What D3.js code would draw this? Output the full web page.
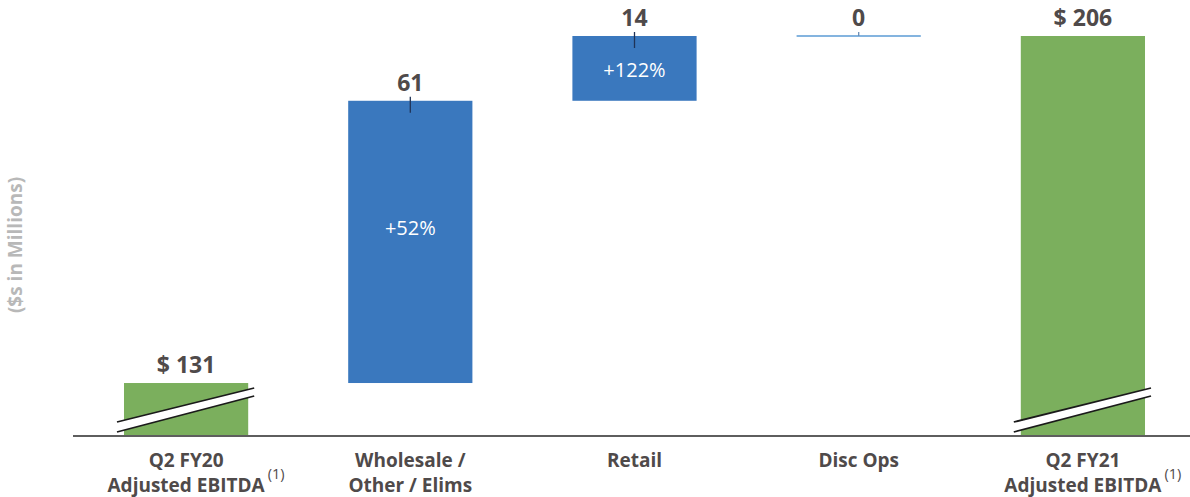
<!DOCTYPE html>
<html>
<head>
<meta charset="utf-8">
<script src="https://cdn.jsdelivr.net/npm/d3@7"></script>
<style>
  html, body { margin: 0; padding: 0; background: #fff; }
  svg { display: block; }
</style>
</head>
<body>
<svg id="chart" width="1190" height="497"></svg>
<script>
// ---- data ----
const categories = ["Q2 FY20", "Wholesale", "Retail", "Disc Ops", "Q2 FY21"];
const categoryLines = [
  ["Q2 FY20", "Adjusted EBITDA"],
  ["Wholesale /", "Other / Elims"],
  ["Retail"],
  ["Disc Ops"],
  ["Q2 FY21", "Adjusted EBITDA"]
];
const footnotes = ["(1)", "", "", "", "(1)"];
const values = [131, 61, 14, 0, 206];
const kinds = ["total", "delta", "delta", "delta", "total"];
const valueLabels = ["$ 131", "61", "14", "0", "$ 206"];
const pctLabels = ["", "+52%", "+122%", "", ""];
const axisTitle = "($s in Millions)";
const axisFloor = 119.55; // truncated (broken) axis start

// ---- build waterfall ----
let run = 0;
const rows = values.map((v, i) => {
  let start, end;
  if (kinds[i] === "total") { start = axisFloor; end = v; run = v; }
  else { start = run; end = run + v; run = end; }
  return { cat: categories[i], v, kind: kinds[i], start, end, i };
});

const svg = d3.select("#chart");
const x = d3.scaleBand().domain(categories).range([74, 1195])
  .paddingInner(0.446).paddingOuter(0.223);
const y = d3.scaleLinear().domain([axisFloor, 206]).range([436, 36]);

const green = "#7BAF5D", blue = "#3A78BE", textCol = "#4F4A4A";
const font = "'Open Sans', 'DejaVu Sans', sans-serif";

// bars
rows.forEach(d => {
  const x0 = x(d.cat), w = x.bandwidth();
  const top = y(Math.max(d.start, d.end)), bot = y(Math.min(d.start, d.end));
  if (d.v === 0) {
    svg.append("line").attr("x1", x0).attr("x2", x0 + w)
      .attr("y1", top).attr("y2", top)
      .attr("stroke", "#5B9BD5").attr("stroke-width", 1.5);
  } else {
    svg.append("rect").attr("x", x0).attr("y", top)
      .attr("width", w).attr("height", bot - top)
      .attr("fill", d.kind === "total" ? green : blue);
  }
});

// axis baseline
svg.append("line").attr("x1", 73).attr("x2", 1190)
  .attr("y1", y(axisFloor)).attr("y2", y(axisFloor))
  .attr("stroke", "#5E5E5E").attr("stroke-width", 1.8);

// axis break marks on total bars
rows.filter(d => d.kind === "total").forEach(d => {
  const x0 = x(d.cat) - 7, x1 = x(d.cat) + x.bandwidth() + 6;
  const b = y(axisFloor);
  const lt = b - 14, lb = b - 4, rt = b - 48, rb = b - 40;
  svg.append("polygon")
    .attr("points", `${x0},${lt} ${x1},${rt} ${x1},${rb} ${x0},${lb}`)
    .attr("fill", "#fff");
  [[lt, rt], [lb, rb]].forEach(([a, c]) => {
    svg.append("line").attr("x1", x0).attr("y1", a).attr("x2", x1).attr("y2", c)
      .attr("stroke", "#1A1A1A").attr("stroke-width", 1.8);
  });
});

// tick marks on delta bars
rows.filter(d => d.kind === "delta").forEach(d => {
  const cx = x(d.cat) + x.bandwidth() / 2;
  const top = y(Math.max(d.start, d.end));
  svg.append("line").attr("x1", cx).attr("x2", cx)
    .attr("y1", top - 4).attr("y2", top + (d.v > 0 ? 12 : 0))
    .attr("stroke", d.v > 0 ? "#1F3357" : "#6B8DB5").attr("stroke-width", 1.3);
});

// value labels
rows.forEach(d => {
  const cx = x(d.cat) + x.bandwidth() / 2;
  const top = y(Math.max(d.start, d.end));
  svg.append("text").attr("x", cx).attr("y", top - 10)
    .attr("text-anchor", "middle").attr("font-family", font)
    .attr("font-weight", 700).attr("font-size", 23).attr("fill", textCol)
    .text(valueLabels[d.i]);
});

// percent labels
rows.forEach(d => {
  if (!pctLabels[d.i]) return;
  const cx = x(d.cat) + x.bandwidth() / 2;
  const top = y(Math.max(d.start, d.end)), bot = y(Math.min(d.start, d.end));
  const cy = top + (bot - top) * (bot - top > 100 ? 0.45 : 0.52);
  svg.append("text").attr("x", cx).attr("y", cy + 7)
    .attr("text-anchor", "middle").attr("font-family", font)
    .attr("font-size", 20).attr("fill", "#fff")
    .text(pctLabels[d.i]);
});

// category labels
rows.forEach(d => {
  const cx = x(d.cat) + x.bandwidth() / 2;
  const lines = categoryLines[d.i];
  let lastW = 0;
  lines.forEach((ln, k) => {
    const t = svg.append("text").attr("x", cx).attr("y", 467 + k * 25)
      .attr("text-anchor", "middle").attr("font-family", font)
      .attr("font-weight", 700).attr("font-size", 19).attr("fill", textCol)
      .text(ln);
    lastW = t.node().getComputedTextLength();
  });
  if (footnotes[d.i]) {
    svg.append("text").attr("x", cx + lastW / 2 + 3).attr("y", 479)
      .attr("font-family", font).attr("font-size", 14.5).attr("fill", textCol)
      .text(footnotes[d.i]);
  }
});

// axis title
svg.append("text")
  .attr("transform", "translate(22,245) rotate(-90)")
  .attr("text-anchor", "middle").attr("font-family", font)
  .attr("font-weight", 700).attr("font-size", 19).attr("fill", "#B8B8B8")
  .text(axisTitle);
</script>
</body>
</html>
